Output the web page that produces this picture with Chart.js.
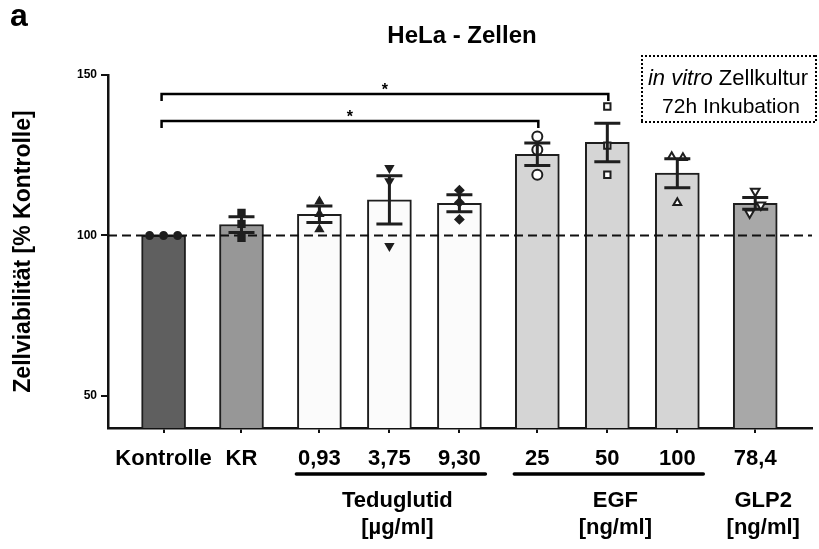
<!DOCTYPE html>
<html>
<head>
<meta charset="utf-8">
<script src="https://cdn.jsdelivr.net/npm/chart.js@4.4.1/dist/chart.umd.min.js"></script>
<style>
  body { margin: 0; background: #fff; }
  #chart { display: block; }
</style>
</head>
<body>
<canvas id="chart" width="819" height="549"></canvas>
<script>
// Daten
const categories = ['Kontrolle', 'KR', '0,93', '3,75', '9,30', '25', '50', '100', '78,4'];
const groupOf = [0, 1, 2, 2, 2, 3, 3, 3, 4];
const means = [100, 103.4, 106.6, 111.1, 110.0, 125.3, 129.0, 119.4, 110.0];
const sems = [0, 2.45, 2.6, 7.5, 2.65, 3.5, 6.0, 4.5, 1.8];
const replicates = [
  [100, 100, 100],
  [107.0, 103.6, 99.3],
  [110.6, 106.7, 101.9],
  [121.0, 116.9, 96.7],
  [114.1, 110.3, 105.0],
  [130.8, 126.7, 118.9],
  [140.2, 128.0, 118.9],
  [124.5, 124.2, 110.2],
  [113.8, 109.5, 107.0]
];
const jitter = [
  [-0.2, 0, 0.2], [0, 0, 0], [0, 0, 0], [0, 0, 0], [0, 0, 0],
  [0, 0, 0], [0, 0, 0], [-0.08, 0.08, 0], [0, 0.08, -0.08]
];
const yTicks = [50, 100, 150];
const refLine = 100;
const groupNames = [
  { members: [2, 3, 4], name: 'Teduglutid', unit: '[µg/ml]', underline: true },
  { members: [5, 6, 7], name: 'EGF', unit: '[ng/ml]', underline: true },
  { members: [8], name: 'GLP2', unit: '[ng/ml]', underline: false }
];
const brackets = [
  { from: 0, to: 6, y: 144.1, label: '*' },
  { from: 0, to: 5, y: 135.7, label: '*' }
];

// Stil
const barColors = ['#5f5f5f', '#979797', '#fbfbfb', '#fbfbfb', '#fbfbfb', '#d5d5d5', '#d5d5d5', '#d5d5d5', '#a8a8a8'];
const markerStyle = [
  { style: 'circle', rot: 0, fill: true, r: 3.5 },
  { style: 'rect', rot: 0, fill: true, r: 4.5 },
  { style: 'triangle', rot: 0, fill: true, r: 4 },
  { style: 'triangle', rot: 180, fill: true, r: 4 },
  { style: 'rectRot', rot: 0, fill: true, r: 4 },
  { style: 'circle', rot: 0, fill: false, r: 5 },
  { style: 'rect', rot: 0, fill: false, r: 4.5 },
  { style: 'triangle', rot: 0, fill: false, r: 4.5 },
  { style: 'triangle', rot: 180, fill: false, r: 5 }
];
const ink = '#1e1e1e';
const FONT = 'Arial, "Liberation Sans", Helvetica, sans-serif';
Chart.defaults.font.family = FONT;
Chart.defaults.color = '#111';

// Position auf der x-Achse: Index plus kleiner Abstand zwischen Gruppen
const GAP = 0.113;
const xPos = categories.map((c, i) => i + GAP * groupOf[i]);

const barData = xPos.map((x, i) => ({ x: x, y: means[i] }));
const pts = [], ptStyle = [], ptRot = [], ptFill = [], ptR = [];
replicates.forEach((vals, i) => {
  vals.forEach((v, j) => {
    pts.push({ x: xPos[i] + jitter[i][j], y: v });
    const m = markerStyle[i];
    ptStyle.push(m.style);
    ptRot.push(m.rot);
    ptFill.push(m.fill ? ink : '#ffffff');
    ptR.push(m.r);
  });
});

const extras = {
  id: 'extras',
  afterDatasetDraw(chart, args) {
    if (args.index !== 0) return;
    // gestrichelte Linie bei 100 %
    const { ctx, chartArea } = chart;
    const y = chart.scales.y.getPixelForValue(refLine);
    ctx.save();
    ctx.strokeStyle = '#111';
    ctx.lineWidth = 2;
    ctx.setLineDash([9, 5]);
    ctx.beginPath();
    ctx.moveTo(chartArea.left, y);
    ctx.lineTo(chartArea.right, y);
    ctx.stroke();
    ctx.restore();
  },
  afterDatasetsDraw(chart) {
    // Fehlerbalken (SEM)
    const { ctx } = chart;
    const xs = chart.scales.x, ys = chart.scales.y;
    ctx.save();
    ctx.strokeStyle = ink;
    ctx.lineWidth = 3;
    means.forEach((m, i) => {
      if (!sems[i]) return;
      const x = xs.getPixelForValue(xPos[i]);
      const y1 = ys.getPixelForValue(m + sems[i]);
      const y2 = ys.getPixelForValue(m - sems[i]);
      ctx.beginPath();
      ctx.moveTo(x, y1); ctx.lineTo(x, y2);
      ctx.moveTo(x - 13, y1); ctx.lineTo(x + 13, y1);
      ctx.moveTo(x - 13, y2); ctx.lineTo(x + 13, y2);
      ctx.stroke();
    });
    ctx.restore();
  },
  afterDraw(chart) {
    const { ctx } = chart;
    const xs = chart.scales.x, ys = chart.scales.y;
    ctx.save();
    ctx.fillStyle = '#000';
    ctx.textBaseline = 'alphabetic';

    // "a" und Titel
    ctx.textAlign = 'left';
    ctx.font = 'bold 32px ' + FONT;
    ctx.fillText('a', 10, 26);
    ctx.textAlign = 'center';
    ctx.font = 'bold 24px ' + FONT;
    ctx.fillText('HeLa - Zellen', 462, 43);

    // Signifikanz-Klammern
    ctx.strokeStyle = '#000';
    ctx.lineWidth = 2.5;
    ctx.font = 'bold 16px ' + FONT;
    brackets.forEach(b => {
      const x1 = xs.getPixelForValue(xPos[b.from]) - 2;
      const x2 = xs.getPixelForValue(xPos[b.to]) + 1;
      const y = Math.round(ys.getPixelForValue(b.y));
      ctx.beginPath();
      ctx.moveTo(x1, y + 7); ctx.lineTo(x1, y); ctx.lineTo(x2, y); ctx.lineTo(x2, y + 7);
      ctx.stroke();
      ctx.fillText(b.label, (x1 + x2) / 2, y + 1);
    });

    // Kasten oben rechts
    ctx.fillStyle = '#000';
    for (let x = 642; x <= 816; x += 4) {
      ctx.fillRect(x - 1, 55, 2, 2);
      ctx.fillRect(x - 1, 121, 2, 2);
    }
    for (let y = 55; y <= 122; y += 4) {
      ctx.fillRect(641, y, 2, 2);
      ctx.fillRect(815, y, 2, 2);
    }
    ctx.font = 'italic 22px ' + FONT;
    const w1 = ctx.measureText('in vitro').width;
    ctx.font = '22px ' + FONT;
    const w2 = ctx.measureText(' Zellkultur').width;
    let sx = 728 - (w1 + w2) / 2;
    ctx.textAlign = 'left';
    ctx.font = 'italic 22px ' + FONT;
    ctx.fillText('in vitro', sx, 85);
    ctx.font = '22px ' + FONT;
    ctx.fillText(' Zellkultur', sx + w1, 85);
    ctx.textAlign = 'center';
    ctx.font = '21px ' + FONT;
    ctx.fillText('72h Inkubation', 731, 113);

    // Gruppen unter der x-Achse
    ctx.lineWidth = 3.5;
    ctx.lineCap = 'round';
    groupNames.forEach(g => {
      const first = xs.getPixelForValue(xPos[g.members[0]]);
      const last = xs.getPixelForValue(xPos[g.members[g.members.length - 1]]);
      if (g.underline) {
        ctx.beginPath();
        ctx.moveTo(first - 23, 474);
        ctx.lineTo(last + 26, 474);
        ctx.stroke();
      }
      const cx = (first + last) / 2 + 8;
      ctx.font = 'bold 22px ' + FONT;
      ctx.fillText(g.name, cx, 507);
      ctx.fillText(g.unit, cx, 534);
    });
    ctx.restore();
  }
};

new Chart(document.getElementById('chart'), {
  type: 'bar',
  data: {
    datasets: [
      {
        type: 'bar',
        data: barData,
        backgroundColor: barColors,
        borderColor: ink,
        borderWidth: 2,
        borderSkipped: 'start',
        barThickness: 44,
        order: 2
      },
      {
        type: 'scatter',
        data: pts,
        pointStyle: ptStyle,
        rotation: ptRot,
        pointRadius: ptR,
        backgroundColor: ptFill,
        borderColor: ink,
        borderWidth: 2,
        order: 1
      }
    ]
  },
  options: {
    responsive: false,
    animation: false,
    layout: { padding: { top: 75, right: 2, left: 0, bottom: 0 } },
    plugins: { legend: { display: false }, tooltip: { enabled: false } },
    scales: {
      x: {
        type: 'linear',
        min: -0.794,
        max: 9.263,
        offset: false,
        afterFit: s => { s.height = 121; },
        afterBuildTicks: s => { s.ticks = xPos.map(v => ({ value: v })); },
        ticks: {
          autoSkip: false,
          maxRotation: 0,
          padding: 13,
          color: '#000',
          font: { size: 22, weight: 'bold' },
          callback: (v, i) => categories[i]
        },
        grid: { offset: false, drawOnChartArea: false, drawTicks: true, tickLength: 5, color: '#111', lineWidth: 2 },
        border: { display: true, color: '#111', width: 2.5 }
      },
      y: {
        min: 40,
        max: 150,
        afterFit: s => { s.width = 108; },
        afterBuildTicks: s => { s.ticks = yTicks.map(v => ({ value: v })); },
        ticks: { padding: 4, color: '#000', font: { size: 12, weight: 'bold' } },
        grid: { drawOnChartArea: false, drawTicks: true, tickLength: 7, color: '#111', lineWidth: 2 },
        border: { display: true, color: '#111', width: 2.5 },
        title: {
          display: true,
          text: 'Zellviabilität [% Kontrolle]',
          color: '#000',
          font: { size: 23, weight: 'bold' },
          padding: { top: 10, bottom: 0 }
        }
      }
    }
  },
  plugins: [extras]
});
</script>
</body>
</html>
